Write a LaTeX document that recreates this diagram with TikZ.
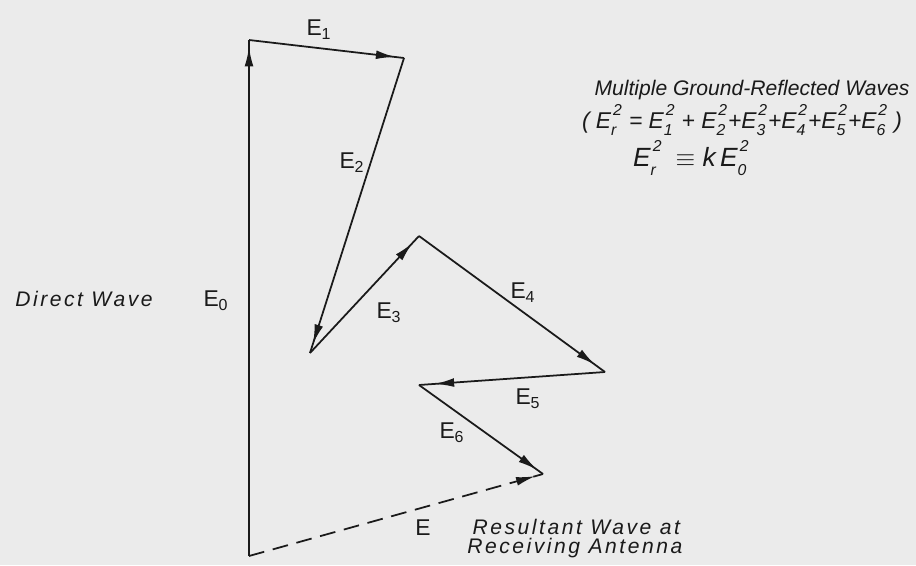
\documentclass[tikz,border=0pt]{standalone}
\usepackage{fontspec}
\setmainfont{Liberation Sans}
\newfontfamily\letterfont[LetterSpace=12]{Liberation Sans}
\usetikzlibrary{arrows.meta,decorations.markings}
\definecolor{paper}{HTML}{EBEBEB}
\definecolor{ink}{HTML}{1A1A1A}
\tikzset{
  vec/.style={draw=ink, line width=1pt, postaction={decorate, solid},
    decoration={markings,
      mark=at position -#1 with {\arrow{Latex[length=11pt,width=5pt]}}}},
  vec/.default=5pt,
  vlabel/.style={font=\fontsize{13}{15}\selectfont, text=ink, inner sep=0pt},
  note/.style={font=\letterfont\itshape\fontsize{12}{11}\selectfont, text=ink, inner sep=0pt},
  formula/.style={font=\itshape\fontsize{13}{15}\selectfont, text=ink, inner sep=0pt}
}
% E with a stacked index below and a 2 above
\newcommand{\Esq}[1]{E\makebox[0.5em][l]{\rlap{\kern0.08em\raisebox{0.55em}{\fontsize{9}{9}\selectfont 2}}\raisebox{-0.35em}{\fontsize{9}{9}\selectfont #1}}}

\begin{document}
\begin{tikzpicture}[x=0.02cm, y=-0.02cm]
  \fill[paper] (0,0) rectangle (916,565);
  \useasboundingbox (0,0) rectangle (916,565);

  % tips of the wave vectors
  \coordinate (O) at (249,556);
  \coordinate (A) at (249,40);
  \coordinate (B) at (404,58);
  \coordinate (C) at (310,353);
  \coordinate (D) at (419,236);
  \coordinate (F) at (605,372);
  \coordinate (G) at (419,385);
  \coordinate (H) at (543,474);

  \draw[vec=4pt] (O) -- (A);
  \draw[vec=5pt] (A) -- (B);
  \draw[vec=5.5pt] (B) -- (C);
  \draw[vec=5.5pt] (C) -- (D);
  \draw[vec=7pt] (D) -- (F);
  \draw[vec=9pt] (F) -- (G);
  \draw[vec=4pt] (G) -- (H);
  \draw[vec=4.5pt, dash pattern=on 9pt off 5pt] (O) -- (H);

  \node[vlabel] (e0) at (216,301) {E\textsubscript{0}};
  \node[vlabel] (e1) at (319,30) {E\textsubscript{1}};
  \node[vlabel] (e2) at (352,163) {E\textsubscript{2}};
  \node[vlabel] (e3) at (389,313) {E\textsubscript{3}};
  \node[vlabel] (e4) at (523,293) {E\textsubscript{4}};
  \node[vlabel] (e5) at (528,399) {E\textsubscript{5}};
  \node[vlabel] (e6) at (452,433) {E\textsubscript{6}};
  \node[vlabel] (e) at (423,528) {E};

  \node[note] (direct) at (84,299) {Direct Wave};
  \node[note, anchor=north west, align=left] (result) at (467,519)
    {\hspace{3pt}Resultant Wave at\\Receiving Antenna};

  \node[formula, font=\itshape\fontsize{12}{14}\selectfont, anchor=base] (title) at (752,95)
    {Multiple Ground-Reflected Waves};
  \node[formula, anchor=base] (sum) at (742,128)
    {( \Esq{r} = \Esq{1} + \Esq{2}+\Esq{3}+\Esq{4}+\Esq{5}+\Esq{6} )};
  \node[formula, font=\itshape\fontsize{15}{17}\selectfont, anchor=base] (ratio) at (692,166)
    {\Esq{r}\,\ $\equiv$\ k\,\Esq{0}};
\end{tikzpicture}
\end{document}
